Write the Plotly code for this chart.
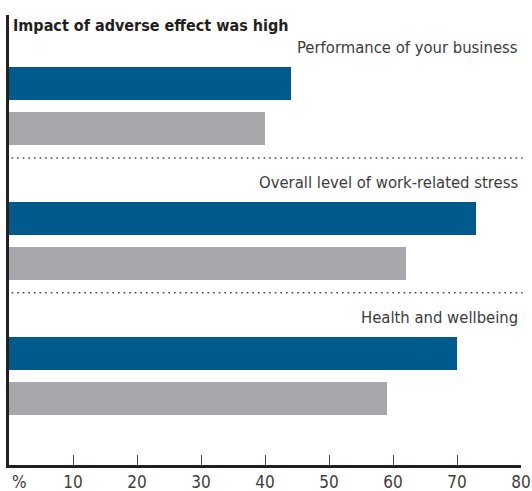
import plotly.graph_objects as go

# Survey results: share of respondents for whom the adverse effect had a high impact
categories = ["Performance of your business",
              "Overall level of work-related stress",
              "Health and wellbeing"]
series_blue = [44, 73, 70]
series_grey = [40, 62, 59]
x_ticks = [10, 20, 30, 40, 50, 60, 70, 80]
title_text = "Impact of adverse effect was high"

BLUE = "#005a8c"
GREY = "#a5a7aa"
TEXT = "#3c3c3c"
DARK = "#231f20"
FONT = "DejaVu Sans Condensed, sans-serif"

# each group occupies three rows: label/separator row, blue bar row, grey bar row
ROWS = 3
blue_pos = [ROWS * i + 1 for i in range(len(categories))]
grey_pos = [ROWS * i + 2 for i in range(len(categories))]

fig = go.Figure()
fig.add_trace(go.Bar(x=series_blue, y=blue_pos, orientation="h",
                     marker=dict(color=BLUE, line=dict(width=0)),
                     width=0.735, hoverinfo="x"))
fig.add_trace(go.Bar(x=series_grey, y=grey_pos, orientation="h",
                     marker=dict(color=GREY, line=dict(width=0)),
                     width=0.735, hoverinfo="x"))

annotations = []
for i, name in enumerate(categories):
    annotations.append(dict(text=name, xref="paper", x=1.0, xanchor="right",
                            xshift=-1, yref="y", y=ROWS * i + 0.2,
                            yanchor="middle", showarrow=False,
                            font=dict(family=FONT, size=16.5, color=TEXT)))

annotations.append(dict(text="<b>" + title_text + "</b>", xref="x", x=0,
                        xanchor="left", xshift=2, yref="y", y=-0.3,
                        yanchor="middle", showarrow=False,
                        font=dict(family=FONT, size=16, color=DARK)))
# unit marker sitting in the slot of the zero tick label
annotations.append(dict(text="%", xref="x", x=0, xanchor="left", xshift=1,
                        yref="paper", y=0, yanchor="middle", yshift=-17,
                        showarrow=False,
                        font=dict(family=FONT, size=17, color=TEXT)))

# dotted separators between groups
shapes = []
for i in range(len(categories) - 1):
    yy = ROWS * i + 2.65
    shapes.append(dict(type="line", xref="paper", x0=0.005, x1=1.003,
                       yref="y", y0=yy, y1=yy,
                       line=dict(color="#444444", width=1.6, dash="1.6px,4px")))

fig.update_layout(
    width=532, height=491,
    margin=dict(l=9, r=11, t=15, b=26, autoexpand=False),
    paper_bgcolor="white", plot_bgcolor="white",
    showlegend=False, bargap=0,
    annotations=annotations, shapes=shapes,
    xaxis=dict(range=[0, 80], tickvals=x_ticks,
               ticktext=[str(v) for v in x_ticks],
               ticks="inside", ticklen=10, tickwidth=1.2, tickcolor="#444444",
               ticklabeloverflow="allow", automargin=False,
               showline=True, linecolor=DARK, linewidth=2.5,
               showgrid=False, zeroline=False,
               tickfont=dict(family=FONT, size=17, color=TEXT)),
    yaxis=dict(range=[9.48, -0.53], showticklabels=False, ticks="",
               showline=True, linecolor=DARK, linewidth=3,
               showgrid=False, zeroline=False, automargin=False),
)

fig.write_html("out.html")
